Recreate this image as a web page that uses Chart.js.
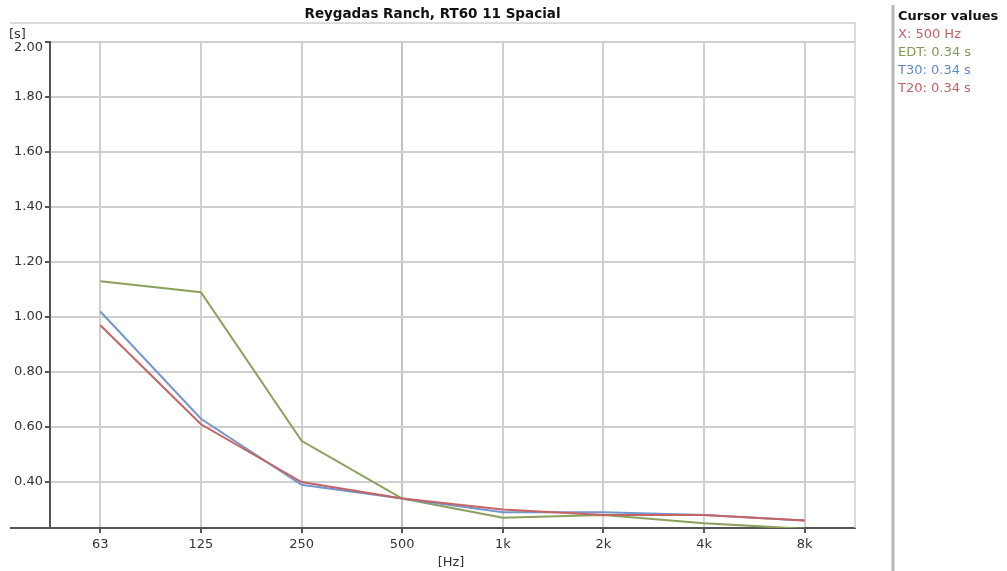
<!DOCTYPE html>
<html>
<head>
<meta charset="utf-8">
<script src="https://cdn.jsdelivr.net/npm/chart.js@4"></script>
<style>
  html, body { margin: 0; padding: 0; background: #fff; }
  canvas { display: block; }
</style>
</head>
<body>
<canvas id="rt60Chart" width="1007" height="571"></canvas>
<script>
// octave bands and reverberation times [s]
const bands = ["63", "125", "250", "500", "1k", "2k", "4k", "8k"];
const edt = [1.13, 1.09, 0.55, 0.34, 0.27, 0.28, 0.25, 0.23];
const t30 = [1.02, 0.63, 0.39, 0.34, 0.29, 0.29, 0.28, 0.26];
const t20 = [0.97, 0.61, 0.40, 0.34, 0.30, 0.28, 0.28, 0.26];
const yTicks = [0.4, 0.6, 0.8, 1.0, 1.2, 1.4, 1.6, 1.8, 2.0];
const yMin = 0.233;
const yMax = 2.0;

const cursorIndex = 3; // 500 Hz
const cursorLines = [
  { text: "X: 500 Hz", color: "#c46262" },
  { text: "EDT: 0.34 s", color: "#7f9a52" },
  { text: "T30: 0.34 s", color: "#6088c6" },
  { text: "T20: 0.34 s", color: "#c46262" },
];

const FONT = "DejaVu Sans, Verdana, sans-serif";

// frame, title, unit labels and cursor panel
const decorations = {
  id: "decorations",
  beforeDraw(chart) {
    const ctx = chart.ctx;
    ctx.save();
    ctx.fillStyle = "#fff";
    ctx.fillRect(0, 0, chart.width, chart.height);
    ctx.restore();
  },
  afterDraw(chart) {
    const ctx = chart.ctx;
    const area = chart.chartArea;
    const yScale = chart.scales.y;
    ctx.save();

    // outer frame
    ctx.strokeStyle = "#cfcfcf";
    ctx.lineWidth = 1.5;
    ctx.beginPath();
    ctx.moveTo(10, 23);
    ctx.lineTo(area.right, 23);
    ctx.lineTo(area.right, area.bottom);
    ctx.stroke();

    // x axis continues to the left edge
    ctx.strokeStyle = "#555";
    ctx.lineWidth = 2;
    ctx.beginPath();
    ctx.moveTo(10, area.bottom);
    ctx.lineTo(area.left, area.bottom);
    ctx.stroke();

    // title
    ctx.fillStyle = "#111";
    ctx.font = "bold 13.5px " + FONT;
    ctx.textAlign = "center";
    ctx.textBaseline = "middle";
    ctx.fillText("Reygadas Ranch, RT60 11 Spacial", (10 + area.right) / 2, 14);

    // units
    ctx.font = "13px " + FONT;
    ctx.fillStyle = "#333";
    ctx.textAlign = "left";
    ctx.fillText("[s]", 9, 35);
    ctx.textAlign = "center";
    ctx.fillText("[Hz]", 451, 563);

    // top tick label sits just below its grid line
    ctx.textAlign = "right";
    ctx.fillText(yMax.toFixed(2), area.left - 7, yScale.getPixelForValue(yMax) + 6);

    // cursor panel
    ctx.strokeStyle = "#b5b5b5";
    ctx.lineWidth = 3;
    ctx.beginPath();
    ctx.moveTo(893, 5);
    ctx.lineTo(893, chart.height);
    ctx.stroke();

    ctx.textAlign = "left";
    ctx.fillStyle = "#111";
    ctx.font = "bold 13px " + FONT;
    ctx.fillText("Cursor values", 898, 17);
    ctx.font = "13px " + FONT;
    cursorLines.forEach((line, i) => {
      ctx.fillStyle = line.color;
      ctx.fillText(line.text, 898, 35 + i * 18);
    });

    ctx.restore();
  },
};

const ctx = document.getElementById("rt60Chart").getContext("2d");

new Chart(ctx, {
  type: "line",
  data: {
    labels: bands,
    datasets: [
      { label: "T20", data: t20, borderColor: "#c46464" },
      { label: "T30", data: t30, borderColor: "#7396cc" },
      { label: "EDT", data: edt, borderColor: "#8ba05c", clip: 0 },
    ],
  },
  options: {
    responsive: false,
    animation: false,
    layout: { padding: { top: 42, right: 152, left: 0, bottom: 0 } },
    elements: {
      line: { borderWidth: 2, tension: 0 },
      point: { radius: 0, hoverRadius: 0 },
    },
    plugins: {
      legend: { display: false },
      tooltip: { enabled: false },
    },
    scales: {
      x: {
        type: "category",
        offset: true,
        afterFit: (scale) => { scale.height = 43; },
        grid: {
          color: (c) => (c.index === cursorIndex ? "#c6bfcc" : "#cfcfcf"),
          lineWidth: 2,
          tickLength: 5,
          tickColor: "#555",
        },
        border: { color: "#555", width: 2 },
        ticks: {
          color: "#333",
          font: { family: FONT, size: 13 },
          padding: 4,
          maxRotation: 0,
        },
      },
      y: {
        min: yMin,
        max: yMax,
        afterBuildTicks: (scale) => {
          scale.ticks = yTicks.map((v) => ({ value: v }));
        },
        afterFit: (scale) => { scale.width = 50; },
        grid: {
          color: "#cfcfcf",
          lineWidth: 2,
          tickLength: 5,
          tickColor: "#555",
        },
        border: { color: "#555", width: 2 },
        ticks: {
          color: "#333",
          font: { family: FONT, size: 13 },
          padding: 2,
          // the top label is drawn by the decorations plugin
          callback: (v) => (v >= yMax ? "" : Number(v).toFixed(2)),
        },
      },
    },
  },
  plugins: [decorations],
});
</script>
</body>
</html>
